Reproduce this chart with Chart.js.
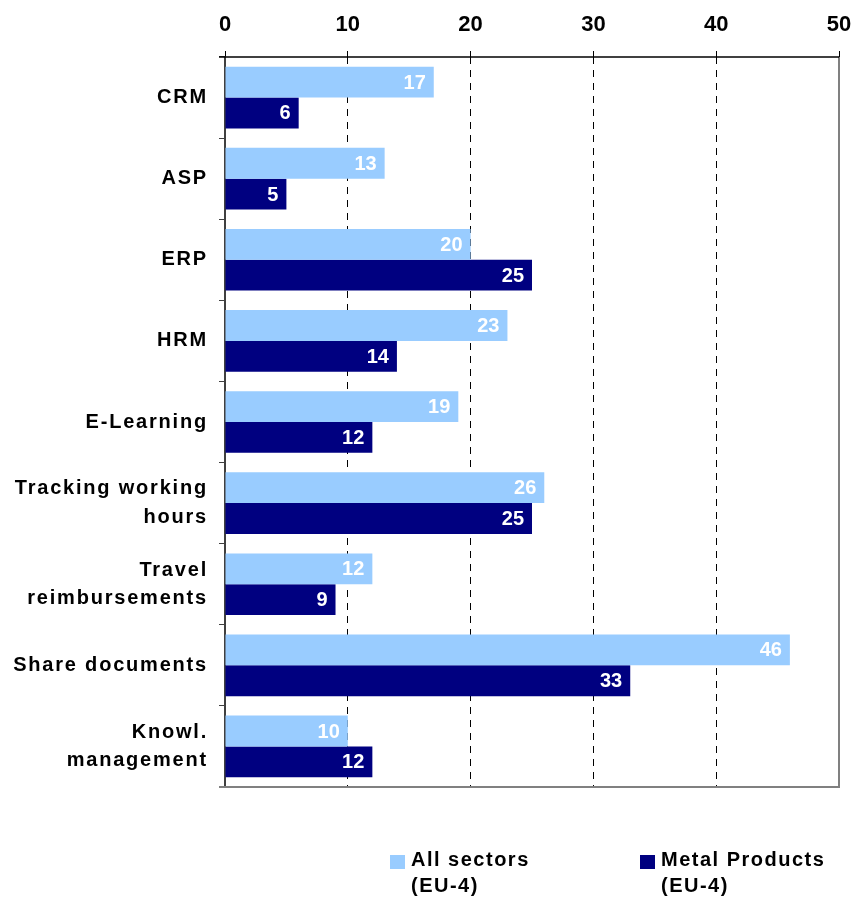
<!DOCTYPE html>
<html>
<head>
<meta charset="utf-8">
<script src="https://cdn.jsdelivr.net/npm/chart.js@4.4.1/dist/chart.umd.min.js"></script>
<style>
  body { margin: 0; background: #fff; }
  #wrap { position: relative; width: 856px; height: 899px; }
  #chart { position: absolute; left: 0; top: 0; }
  .key { position: absolute; font: bold 20px 'Liberation Sans', Arial, sans-serif; letter-spacing: 1.5px; line-height: 26px; color: #000; }
  .key span { position: absolute; left: -21px; top: 9px; width: 15px; height: 14px; }
</style>
</head>
<body>
<div id="wrap">
  <canvas id="chart" width="856" height="899"></canvas>
  <div class="key" style="left:411px; top:846px;"><span style="background:#99CCFF"></span>All sectors<br>(EU-4)</div>
  <div class="key" style="left:661px; top:846px;"><span style="background:#000080"></span>Metal Products<br>(EU-4)</div>
</div>
<script>
// ====== DATA ======
const categories = [
  "CRM", "ASP", "ERP", "HRM", "E-Learning",
  ["Tracking working", "hours"], ["Travel", "reimbursements"],
  "Share documents", ["Knowl.", "management"]
];
const allSectors = [17, 13, 20, 23, 19, 26, 12, 46, 10];
const metalProducts = [6, 5, 25, 14, 12, 25, 9, 33, 12];
const seriesNames = ["All sectors (EU-4)", "Metal Products (EU-4)"];
const xTicks = [0, 10, 20, 30, 40, 50];

const FONT = "'Liberation Sans', Arial, sans-serif";

// value labels inside the end of each bar
const barValues = {
  id: 'barValues',
  afterDatasetsDraw(chart) {
    const ctx = chart.ctx;
    ctx.save();
    ctx.font = 'bold 20px ' + FONT;
    ctx.fillStyle = '#fff';
    ctx.textAlign = 'right';
    ctx.textBaseline = 'middle';
    chart.data.datasets.forEach((ds, i) => {
      chart.getDatasetMeta(i).data.forEach((bar, j) => {
        ctx.fillText(ds.data[j], bar.x - 8, bar.y + 1);
      });
    });
    ctx.restore();
  }
};

// plot frame: black top axis line, gray right and bottom edges
const frame = {
  id: 'frame',
  afterDatasetsDraw(chart) {
    const { ctx, chartArea: a } = chart;
    ctx.save();
    ctx.lineWidth = 2;
    ctx.strokeStyle = '#808080';
    ctx.beginPath();
    ctx.moveTo(a.left - 6, a.bottom);
    ctx.lineTo(a.right, a.bottom);
    ctx.lineTo(a.right, a.top);
    ctx.stroke();
    ctx.strokeStyle = '#000';
    ctx.lineWidth = 1.5;
    ctx.beginPath();
    ctx.moveTo(a.left - 6, a.top);
    ctx.lineTo(a.right, a.top);
    ctx.stroke();
    ctx.restore();
  }
};

const chart = new Chart(document.getElementById('chart'), {
  type: 'bar',
  data: {
    labels: categories,
    datasets: [
      { label: seriesNames[0], data: allSectors, backgroundColor: '#99CCFF' },
      { label: seriesNames[1], data: metalProducts, backgroundColor: '#000080' }
    ]
  },
  options: {
    indexAxis: 'y',
    responsive: false,
    animation: false,
    categoryPercentage: 0.76,
    barPercentage: 1.0,
    layout: { padding: { left: 0, right: 0, top: 0, bottom: 112 } },
    plugins: { legend: { display: false }, tooltip: { enabled: false } },
    scales: {
      x: {
        position: 'top',
        min: 0,
        max: 50,
        afterBuildTicks: (scale) => { scale.ticks = xTicks.map(v => ({ value: v })); },
        afterFit: (scale) => {
          scale.height = 57;
          scale.paddingRight = 17;
        },
        ticks: { color: '#000', padding: 13, font: { family: FONT, size: 22, weight: 'bold' } },
        grid: {
          color: (c) => (c.index === 0 || c.index === xTicks.length - 1) ? 'rgba(0,0,0,0)' : '#000',
          lineWidth: 1,
          tickColor: '#000',
          tickLength: 6
        },
        border: { display: false, dash: [7, 6] }
      },
      y: {
        afterFit: (scale) => { scale.width = 225; },
        ticks: { color: '#000', padding: 11, font: { family: FONT, size: 20, weight: 'bold', lineHeight: 1.42 } },
        grid: { drawOnChartArea: false, tickLength: 6, color: '#404040', tickColor: '#404040' },
        border: { display: true, color: '#404040', width: 2 }
      }
    }
  },
  plugins: [frame, barValues]
});

// category labels are set with wider letter spacing
const yScale = chart.scales.y;
const drawYLabels = yScale.drawLabels;
yScale.drawLabels = function (area) {
  const ctx = this.ctx;
  ctx.save();
  ctx.letterSpacing = '1.8px';
  drawYLabels.call(this, area);
  ctx.restore();
};
chart.draw();
</script>
</body>
</html>
